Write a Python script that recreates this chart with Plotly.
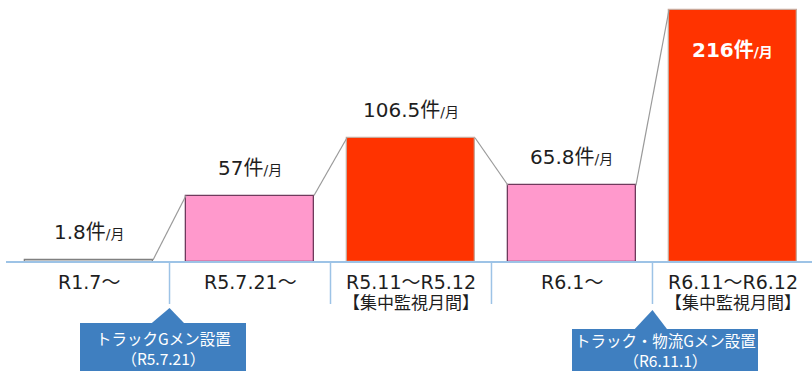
import plotly.graph_objects as go

# ---------------- data ----------------
categories = ["R1.7～", "R5.7.21～", "R5.11～R5.12", "R6.1～", "R6.11～R6.12"]
sublabels = ["", "", "【集中監視月間】", "", "【集中監視月間】"]
values = [1.8, 57, 106.5, 65.8, 216]
value_labels = ["1.8", "57", "106.5", "65.8", "216"]
unit_main = "件"
unit_sub = "/月"
callout_line1 = ["トラックGメン設置", "トラック・物流Gメン設置"]
callout_line2 = ["（R5.7.21）", "（R6.11.1）"]
callout_after = [0, 3]  # callout sits under separator after this bar index

# ---------------- styles / layout ----------------
fill_colors = ["#d9d9d9", "#ff99cc", "#ff3300", "#ff99cc", "#ff3300"]
line_colors = ["#808080", "#6f3a5c", "#c9a89a", "#6f3a5c", "#c9a89a"]
inside_label = [False, False, False, False, True]
W, H = 812, 371
BAR_W = 0.795
X_RANGE = [-0.553, 4.491]
Y_RANGE = [-93.4, 224.6]
FONT = "DejaVu Sans, Noto Sans CJK JP"
CJK = "Noto Sans CJK JP"
TXT = "#1e1e1e"
AXIS_BLUE = "#9dc3e6"
BOX_BLUE = "#3f7fc0"
callout_box_px = [(80, 246, 323), (572, 758, 329)]
callout_apex_px = [308, 310]
callout_center_px = [348, 350]
callout_sizes = [15.5, 15.5]


def dx(px):
    return X_RANGE[0] + px / W * (X_RANGE[1] - X_RANGE[0])


def dy(py):
    return Y_RANGE[1] - py / H * (Y_RANGE[1] - Y_RANGE[0])


xs = list(range(len(values)))
fig = go.Figure()

fig.add_trace(go.Bar(
    x=xs, y=values, width=BAR_W,
    marker=dict(color=fill_colors, line=dict(color=line_colors, width=1.3)),
    hoverinfo="skip", showlegend=False,
))

for i in range(len(values) - 1):
    fig.add_trace(go.Scatter(
        x=[i + BAR_W / 2, i + 1 - BAR_W / 2], y=[values[i], values[i + 1]],
        mode="lines", line=dict(color="#9a9a9a", width=1.2),
        hoverinfo="skip", showlegend=False,
    ))

shapes = []
# baseline
shapes.append(dict(type="line", xref="paper", yref="y", x0=6 / W, x1=1, y0=0, y1=0,
                   line=dict(color=AXIS_BLUE, width=2)))
# separators
for i in range(len(values) - 1):
    shapes.append(dict(type="line", xref="x", yref="y", x0=i + 0.5, x1=i + 0.5,
                       y0=0, y1=dy(304), line=dict(color=AXIS_BLUE, width=1.5)))

annotations = []
for i, v in enumerate(values):
    sub = f"<span style='font-size:14px'>{unit_sub}</span>"
    if inside_label[i]:
        annotations.append(dict(
            x=i, y=v, xref="x", yref="y", showarrow=False, yanchor="middle",
            yshift=-40, text=f"<b>{value_labels[i]}{unit_main}{sub}</b>",
            font=dict(family=FONT, size=20, color="white")))
    else:
        annotations.append(dict(
            x=i, y=v, xref="x", yref="y", showarrow=False, yanchor="middle",
            yshift=28, text=f"{value_labels[i]}{unit_main}{sub}",
            font=dict(family=FONT, size=20, color=TXT)))
    annotations.append(dict(
        x=i, y=0, xref="x", yref="y", showarrow=False, yanchor="middle",
        yshift=-20, text=categories[i], font=dict(family=FONT, size=19, color=TXT)))
    if sublabels[i]:
        annotations.append(dict(
            x=i, y=0, xref="x", yref="y", showarrow=False, yanchor="middle",
            yshift=-41, text=sublabels[i], font=dict(family=FONT, size=17, color=TXT)))

for k, idx in enumerate(callout_after):
    sx = idx + 0.5
    x0p, x1p, topp = callout_box_px[k]
    shapes.append(dict(type="rect", xref="x", yref="y", x0=dx(x0p), x1=dx(x1p),
                       y0=dy(topp), y1=dy(H + 10), fillcolor=BOX_BLUE,
                       line=dict(width=0), layer="above"))
    ax = sx
    apx = callout_apex_px[k]
    path = (f"M {ax - 0.11} {dy(topp) + 0.01} L {ax} {dy(apx)} "
            f"L {ax + 0.09} {dy(topp) + 0.01} Z")
    shapes.append(dict(type="path", xref="x", yref="y", path=path,
                       fillcolor=BOX_BLUE, line=dict(width=0), layer="above"))
    cx = dx((x0p + x1p) / 2)
    annotations.append(dict(x=cx, y=dy(callout_center_px[k]), xref="x", yref="y",
                            showarrow=False, yanchor="middle", borderpad=0,
                            text=f"{callout_line1[k]}<br>{callout_line2[k]}",
                            font=dict(family=CJK, size=callout_sizes[k], color="white")))

fig.update_layout(
    width=W, height=H,
    margin=dict(l=0, r=0, t=0, b=0),
    paper_bgcolor="white", plot_bgcolor="white",
    xaxis=dict(range=X_RANGE, visible=False, fixedrange=True),
    yaxis=dict(range=Y_RANGE, visible=False, fixedrange=True),
    shapes=shapes, annotations=annotations,
    bargap=0,
)

fig.write_html("out.html", config={"displayModeBar": False})
